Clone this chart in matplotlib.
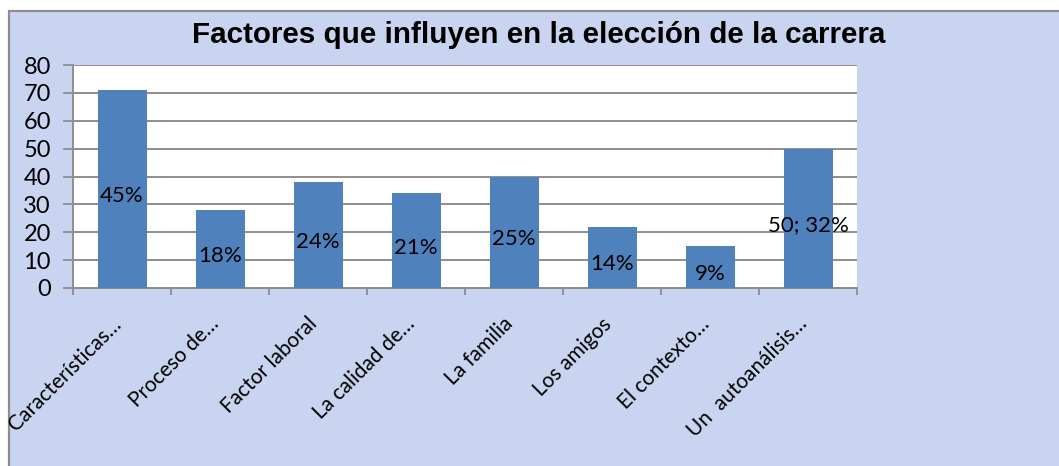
import matplotlib.pyplot as plt
from matplotlib.patches import Rectangle
from matplotlib.transforms import ScaledTranslation

categories = ["Características…", "Proceso de…", "Factor laboral", "La calidad de…",
              "La familia", "Los amigos", "El contexto…", "Un  autoanálisis…"]
values = [71, 28, 38, 34, 40, 22, 15, 50]
labels = ["45%", "18%", "24%", "21%", "25%", "14%", "9%", "50; 32%"]
yticks = [0, 10, 20, 30, 40, 50, 60, 70, 80]

fig = plt.figure(figsize=(10.59, 4.66), dpi=100, facecolor="white")

# textured pastel backdrop -> flat lavender panel with grey border
bg = Rectangle((9 / 1059, -0.01), 1.0, 1 - 11 / 466 + 0.01, transform=fig.transFigure,
               facecolor="#c9d4f1", edgecolor="#8e8e8e", linewidth=1.6, zorder=-5)
fig.patches.append(bg)

ax = fig.add_axes([73 / 1059, 178 / 466, 784 / 1059, 223 / 466])
ax.set_facecolor("white")

x = range(len(values))
bars = ax.bar(x, values, width=0.5, color="#4f81bd", zorder=3)
texts = ax.bar_label(bars, labels=labels, label_type="center", fontsize=16,
                     family="Lato", color="black", zorder=4)
for t in texts:
    t.xyann = (0, -5)

ax.set_xlim(-0.5, len(values) - 0.5)
ax.set_ylim(0, 80)
ax.set_yticks(yticks)
ax.set_yticklabels([str(v) for v in yticks], fontsize=17, family="Lato")
ax.tick_params(axis="y", length=7, width=1.3, color="#8e8e8e", pad=9)
ax.grid(axis="y", color="#8e8e8e", linewidth=1.4, zorder=1)

ax.set_xticks(list(x))
ax.set_xticklabels(categories, rotation=45, ha="right", va="top",
                   rotation_mode="anchor", fontsize=15, family="Lato")
ax.tick_params(axis="x", which="major", length=0, pad=10)
shift = ScaledTranslation(-0.11, -0.12, fig.dpi_scale_trans)
for lab in ax.get_xticklabels():
    lab.set_transform(lab.get_transform() + shift)
ax.set_xticks([i - 0.5 for i in range(len(values) + 1)], minor=True)
ax.tick_params(axis="x", which="minor", length=5, width=1.3, color="#8e8e8e")

for side in ["top", "right"]:
    ax.spines[side].set_visible(False)
for side in ["left", "bottom"]:
    ax.spines[side].set_color("#8e8e8e")
    ax.spines[side].set_linewidth(1.4)

fig.text(0.509, 0.925, "Factores que influyen en la elección de la carrera",
         ha="center", va="center", fontsize=21.3, fontweight="bold",
         family="Liberation Sans")

fig.savefig("out.png", dpi=100)
